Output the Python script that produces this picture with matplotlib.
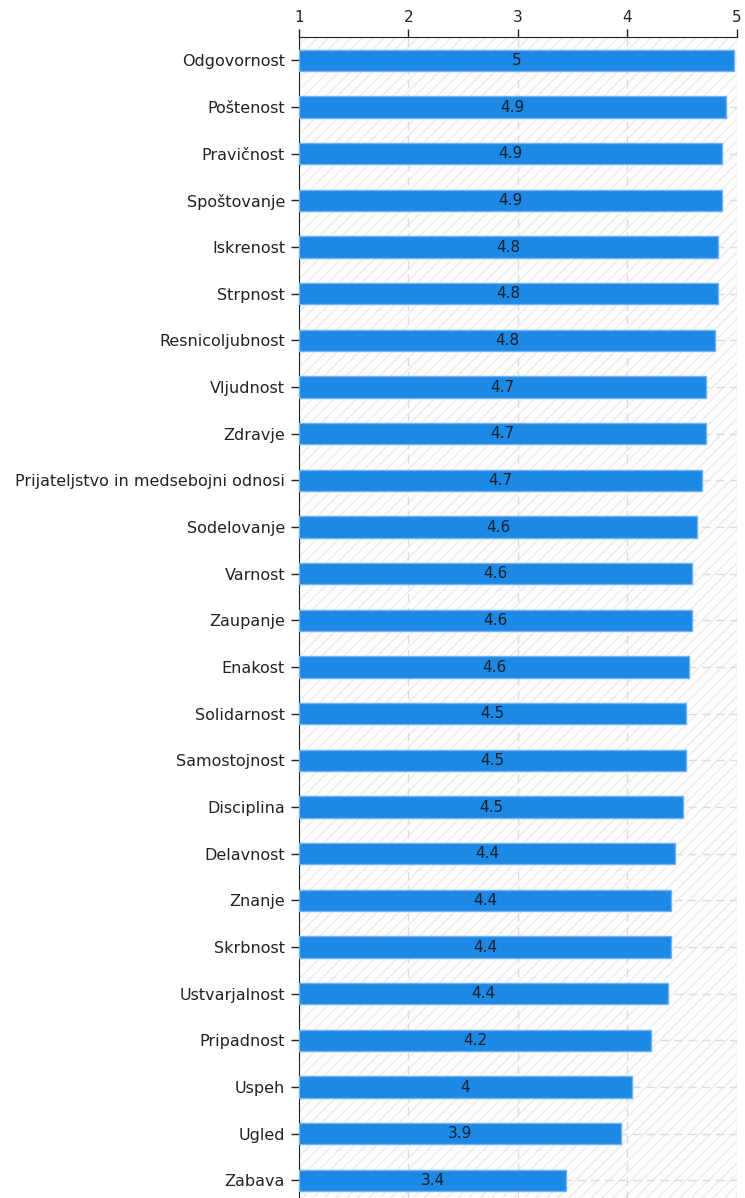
import matplotlib
matplotlib.use('Agg')
from matplotlib import pyplot as plt
from matplotlib.patches import Rectangle

# values (mean scores, 1..5 scale)
categories = ['Odgovornost', 'Poštenost', 'Pravičnost', 'Spoštovanje', 'Iskrenost',
              'Strpnost', 'Resnicoljubnost', 'Vljudnost', 'Zdravje',
              'Prijateljstvo in medsebojni odnosi', 'Sodelovanje', 'Varnost',
              'Zaupanje', 'Enakost', 'Solidarnost', 'Samostojnost', 'Disciplina',
              'Delavnost', 'Znanje', 'Skrbnost', 'Ustvarjalnost', 'Pripadnost',
              'Uspeh', 'Ugled', 'Zabava']
scores = [4.98, 4.90, 4.87, 4.87, 4.83,
          4.83, 4.80, 4.72, 4.72,
          4.68, 4.64, 4.59,
          4.59, 4.57, 4.54, 4.54, 4.51,
          4.44, 4.40, 4.40, 4.37, 4.22,
          4.04, 3.94, 3.44]
x_ticks = [1, 2, 3, 4, 5]

plt.rcParams['font.family'] = ['DejaVu Sans']
plt.rcParams['hatch.linewidth'] = 0.8
plt.rcParams['hatch.color'] = '#e8e8e8'

fig = plt.figure(figsize=(7.45, 11.98), dpi=100)
ax = fig.add_axes([299 / 745, 1 - 1203.7 / 1198, 437.5 / 745, 1166.7 / 1198])

# hatched plot background
ax.set_facecolor('#fdfdfd')
ax.add_patch(Rectangle((0, 0), 1, 1, transform=ax.transAxes, facecolor='none',
                       edgecolor='#e8e8e8', hatch='///', lw=0, zorder=0))

pos = list(range(len(categories)))
ax.barh(pos, [s - 1 for s in scores], left=1, height=0.46,
        color='#1e88e5', edgecolor='#6fb3f2', linewidth=1, zorder=3)

for p, s in zip(pos, scores):
    txt = f'{s:.1f}'
    if txt.endswith('.0'):
        txt = txt[:-2]
    ax.text((1 + s) / 2, p, txt, ha='center', va='center',
            fontsize=11, color='#15202b', zorder=4)

ax.set_xlim(1, 5)
ax.set_ylim(len(categories) - 0.5, -0.5)
ax.set_xticks(x_ticks)
ax.set_yticks(pos)
ax.set_yticklabels(categories)

ax.xaxis.tick_top()
ax.tick_params(axis='x', direction='out', length=6, width=1, labelsize=11,
               colors='#222222', pad=3)
ax.tick_params(axis='y', direction='out', length=6, width=1, labelsize=11.5,
               colors='#222222', pad=4)

ax.grid(True, axis='both', color='#dcdcdc', linestyle=(0, (6, 4)), linewidth=1, zorder=1)
ax.set_axisbelow(True)

ax.spines['bottom'].set_visible(False)
ax.spines['right'].set_visible(False)
ax.spines['top'].set_color('#222222')
ax.spines['left'].set_color('#222222')

fig.savefig('out.png', dpi=100)
